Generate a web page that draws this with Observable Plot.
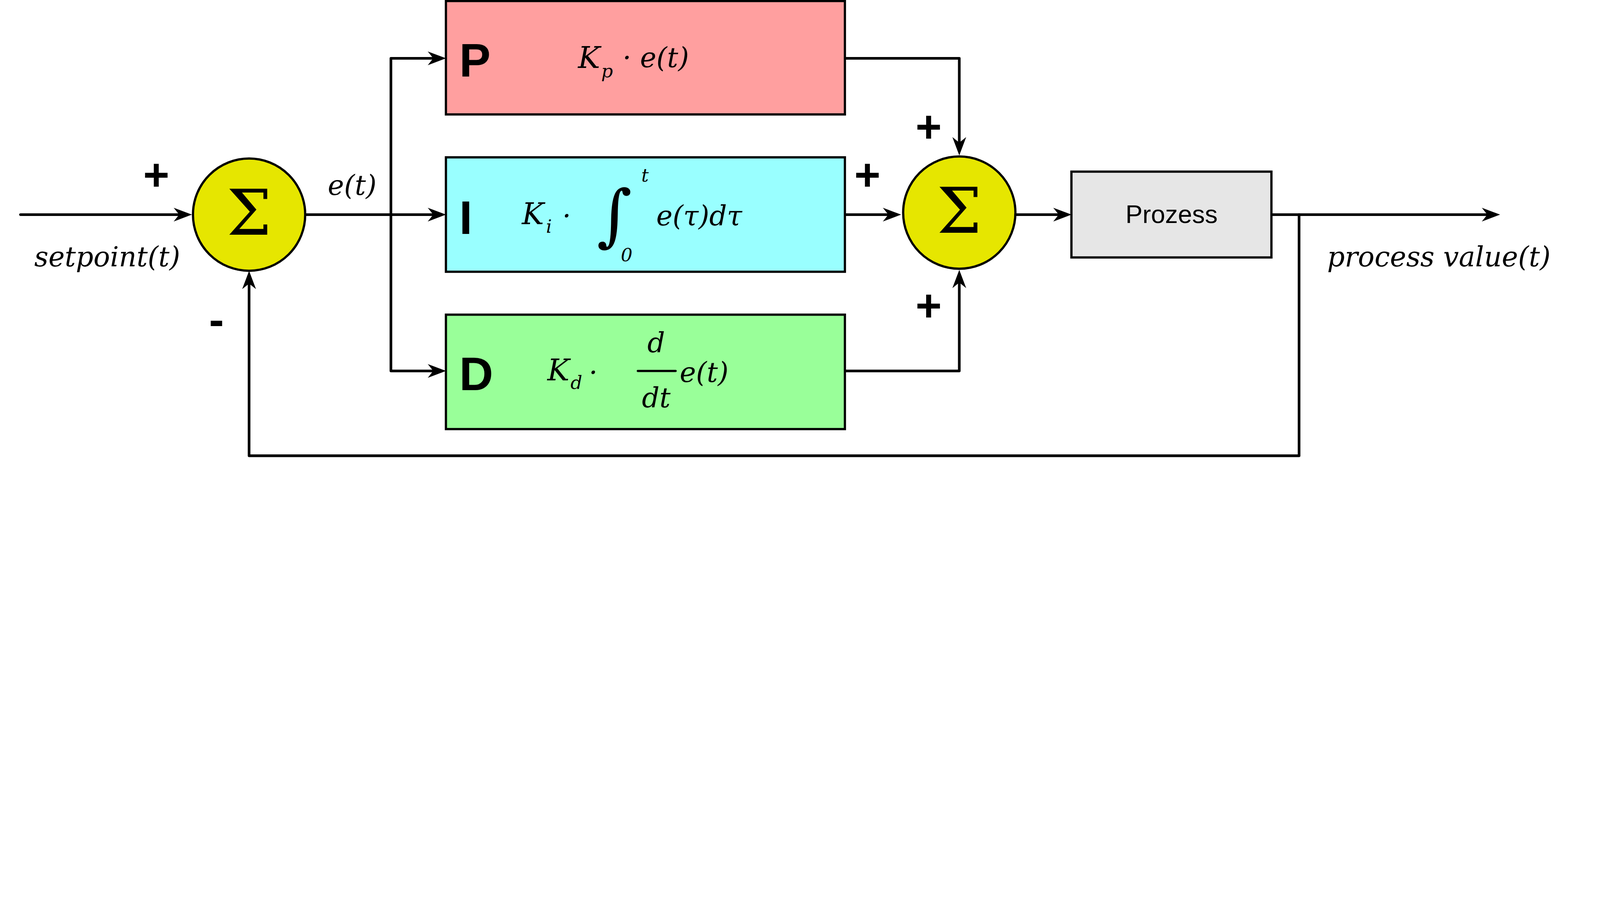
<!DOCTYPE html>
<html><head>
<script src="https://cdn.jsdelivr.net/npm/d3@7"></script>
<script src="https://cdn.jsdelivr.net/npm/@observablehq/plot@0.6"></script>
<style>body{margin:0;background:#fff}</style>
</head><body><div id="c"></div>
<script>
const W=7882,H=2366,S=W/1568;
const boxes=[
 {x1:437,x2:828,y1:1,y2:112,fill:"#ff9f9f"},
 {x1:437,x2:828,y1:154,y2:266,fill:"#99ffff"},
 {x1:437,x2:828,y1:308,y2:420,fill:"#99ff99"},
 {x1:1050,x2:1246,y1:168,y2:252,fill:"#e6e6e6"}];
const circles=[{x:244,y:210},{x:940,y:208}];
const wires=[
 [[20,210],[178,210]],
 [[299,210],[427,210]],
 [[427,57],[383,57],[383,363],[427,363]],
 [[828,57],[940,57],[940,142]],
 [[828,210],[873,210]],
 [[828,363],[940,363],[940,274]],
 [[996,210],[1040,210]],
 [[1246,210],[1460,210]],
 [[1273,210],[1273,446],[244,446],[244,275]],
 [[625,363],[662,363]]];
const heads=[
 {x:188,y:210,r:0},{x:437,y:57,r:0},{x:437,y:210,r:0},{x:437,y:363,r:0},
 {x:940,y:152,r:90},{x:883,y:210,r:0},{x:940,y:264,r:-90},
 {x:1050,y:210,r:0},{x:1470,y:210,r:0},{x:244,y:265,r:-90}];
const signs=[{x:153,y:172,t:"+"},{x:212,y:314,t:"-"},{x:850,y:172,t:"+"},{x:910,y:125,t:"+"},{x:910,y:300,t:"+"}];
const blockLabels=[{x:450,y:60,t:"P"},{x:450,y:214,t:"I"},{x:450,y:367,t:"D"}];
const mathMid=[
 {x:105,y:252,t:"setpoint(t)"},{x:345,y:182,t:"e(t)"},
 {x:1410,y:252,t:"process value(t)"},
 {x:643,y:336,t:"d"},{x:643,y:390,t:"dt"}];
const mathEnd=[{x:588,y:57,t:"K"},{x:533,y:210,t:"K"},{x:558,y:363,t:"K"}];
const mathStart=[
 {x:610,y:57,t:"· e(t)"},{x:551,y:212,t:"·"},{x:643,y:212,t:"e(τ)dτ"},
 {x:577,y:365,t:"·"},{x:666,y:365,t:"e(t)"}];
const subs=[{x:589,y:70,t:"p"},{x:535,y:222,t:"i"},{x:559,y:375,t:"d"}];
const limits=[{x:632,y:172,t:"t"},{x:614,y:250,t:"0"}];
const arrowSym={draw(ctx){const L=90,w=34;ctx.moveTo(0,0);ctx.lineTo(-L,-w);ctx.lineTo(-L*0.7,0);ctx.lineTo(-L,w);ctx.closePath();}};
const wireData=wires.flatMap((w,i)=>w.map(([x,y])=>({x,y,i})));
const mathFont="'DejaVu Serif', serif";
const mt=(data,anchor,size)=>Plot.text(data,{x:"x",y:"y",text:"t",textAnchor:anchor,fontSize:size*S,fontStyle:"italic",fontFamily:mathFont,fill:"#000"});
const plot=Plot.plot({width:W,height:H,margin:0,
 x:{domain:[0,1568],axis:null},y:{domain:[0,470],reverse:true,axis:null},
 marks:[
  Plot.line(wireData,{x:"x",y:"y",z:"i",stroke:"#000",strokeWidth:2.6*S,curve:"linear"}),
  Plot.rect(boxes,{x1:"x1",x2:"x2",y1:"y1",y2:"y2",fill:"fill",stroke:"#000",strokeWidth:2.2*S}),
  Plot.line(wireData.filter(d=>d.i===9),{x:"x",y:"y",stroke:"#000",strokeWidth:2.2*S}),
  Plot.dot(circles,{x:"x",y:"y",r:55*S,fill:"#e6e600",stroke:"#000",strokeWidth:2.2*S}),
  Plot.dot(heads,{x:"x",y:"y",rotate:"r",symbol:arrowSym,fill:"#000",stroke:"none",r:10}),
  Plot.text(circles,{x:"x",y:"y",text:()=>"Σ",fontSize:62*S,fontFamily:mathFont,fill:"#000"}),
  Plot.text(signs,{x:"x",y:"y",text:"t",fontSize:44*S,fontWeight:"bold",fontFamily:"'Liberation Sans',Arial",fill:"#000"}),
  Plot.text(blockLabels,{x:"x",y:"y",text:"t",textAnchor:"start",fontSize:46*S,fontWeight:"bold",fontFamily:"'Liberation Sans',Arial",fill:"#000"}),
  Plot.text([{x:1148,y:210,t:"Prozess"}],{x:"x",y:"y",text:"t",fontSize:25*S,fontFamily:"'Liberation Sans',Arial",fill:"#000"}),
  mt(mathMid,"middle",27),mt(mathEnd,"end",29),mt(mathStart,"start",27),
  mt(subs,"start",18),mt(limits,"middle",18),
  Plot.text([{x:602,y:212,t:"∫"}],{x:"x",y:"y",text:"t",fontSize:66*S,fontStyle:"italic",fontFamily:mathFont,fill:"#000"})
 ]});
document.getElementById("c").append(plot);
</script></body></html>
